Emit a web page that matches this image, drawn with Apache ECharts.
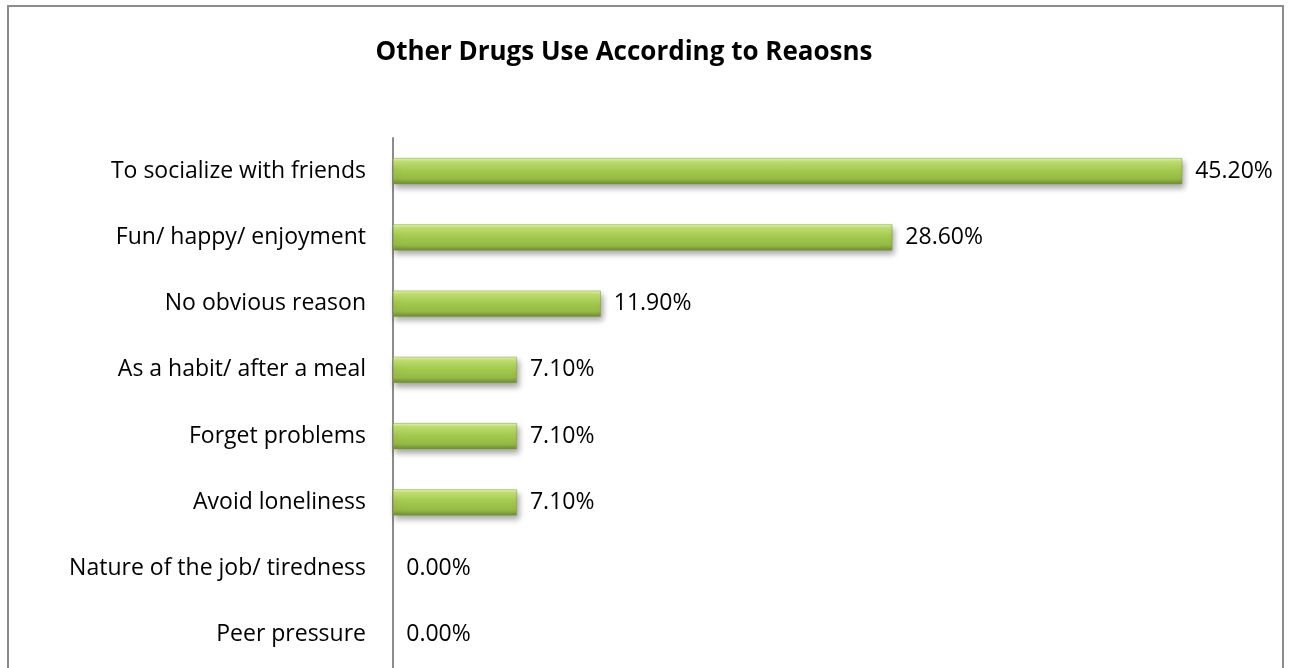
<!DOCTYPE html>
<html>
<head>
<meta charset="utf-8">
<script src="https://cdn.jsdelivr.net/npm/echarts@6/dist/echarts.min.js"></script>
<style>
  html, body { margin: 0; padding: 0; background: #fff; }
  #frame { position: absolute; left: 7px; top: 5px; width: 1277px; height: 680px;
           border: 2px solid #8c8c8c; box-sizing: border-box; }
  #chart { position: absolute; left: 0; top: 0; width: 1289px; height: 668px; }
</style>
</head>
<body>
<div id="frame"></div>
<div id="chart"></div>
<script>
// Reasons for using other drugs, share of respondents (%)
const categories = [
  'To socialize with friends',
  'Fun/ happy/ enjoyment',
  'No obvious reason',
  'As a habit/ after a meal',
  'Forget problems',
  'Avoid loneliness',
  'Nature of the job/ tiredness',
  'Peer pressure'
];
const shares = [45.2, 28.6, 11.9, 7.1, 7.1, 7.1, 0.0, 0.0];
const titleText = 'Other Drugs Use According to Reaosns';

const chart = echarts.init(document.getElementById('chart'), null, { renderer: 'canvas' });

const barFill = new echarts.graphic.LinearGradient(0, 0, 0, 1, [
  { offset: 0, color: '#e6fa9e' },
  { offset: 0.12, color: '#c4e276' },
  { offset: 0.45, color: '#a4cb4e' },
  { offset: 0.8, color: '#94ba44' },
  { offset: 1, color: '#6d8c34' }
]);

const fontFamily = 'Open Sans, Liberation Sans, sans-serif';

// zero-length bars keep their label but draw no body or shadow
const barData = shares.map(v => v === 0
  ? { value: v, itemStyle: { opacity: 0 } }
  : { value: v });

chart.setOption({
  animation: false,
  title: {
    text: titleText,
    left: 619,
    textAlign: 'center',
    top: 35,
    textStyle: { fontFamily, fontWeight: 'bold', fontSize: 26, color: '#000' }
  },
  grid: { left: 393, top: 138, width: 873, height: 531, containLabel: false },
  xAxis: {
    type: 'value', min: 0, max: 50,
    show: false
  },
  yAxis: {
    type: 'category',
    data: categories,
    inverse: true,
    axisLine: { show: true, lineStyle: { color: '#8c8c8c', width: 2 } },
    axisTick: { show: false },
    axisLabel: {
      margin: 27,
      fontSize: 23,
      color: '#000',
      fontFamily
    }
  },
  series: [{
    type: 'bar',
    data: barData,
    barWidth: 26,
    itemStyle: {
      color: barFill,
      borderColor: '#7e9c3e',
      borderWidth: 0.5,
      shadowColor: 'rgba(0,0,0,0.35)',
      shadowBlur: 6,
      shadowOffsetX: 2,
      shadowOffsetY: 4
    },
    label: {
      show: true,
      position: 'right',
      distance: 13,
      formatter: p => p.value.toFixed(2) + '%',
      fontSize: 23,
      color: '#000',
      fontFamily,
      opacity: 1
    }
  }]
});
</script>
</body>
</html>
